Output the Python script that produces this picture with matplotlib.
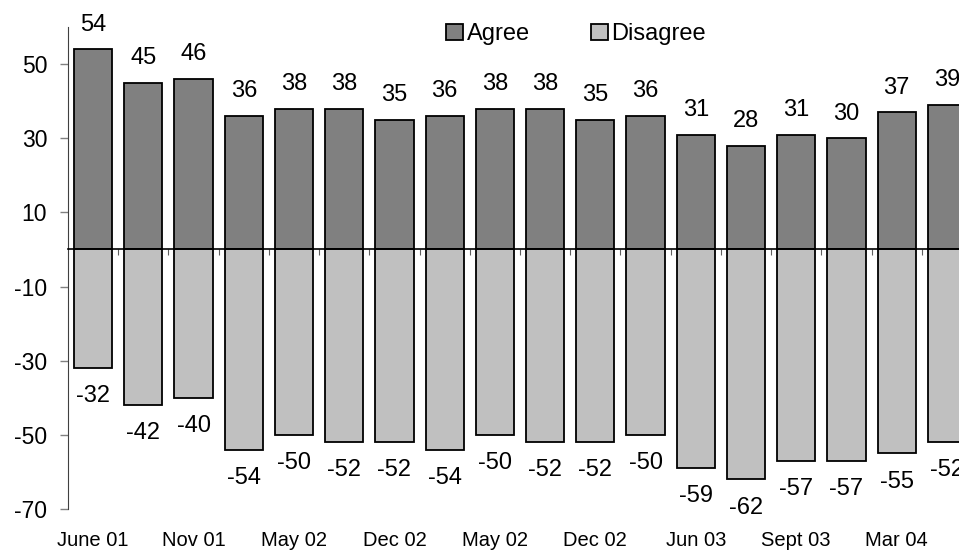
import matplotlib
matplotlib.use("Agg")
import matplotlib.pyplot as plt
import numpy as np

plt.rcParams['font.family'] = ['Liberation Sans', 'DejaVu Sans']
plt.rcParams['axes.unicode_minus'] = False

# Survey waves (bars) and the labels shown on every other wave
waves = list(range(18))
tick_labels = ["June 01", "Nov 01", "May 02", "Dec 02", "May 02",
               "Dec 02", "Jun 03", "Sept 03", "Mar 04"]
agree = [54, 45, 46, 36, 38, 38, 35, 36, 38, 38, 35, 36, 31, 28, 31, 30, 37, 39]
disagree = [-32, -42, -40, -54, -50, -52, -52, -54, -50, -52, -52, -50,
            -59, -62, -57, -57, -55, -52]

fig = plt.figure(figsize=(9.59, 5.5), dpi=100)
ax = fig.add_axes([68 / 959, 1 - 509 / 550, 904 / 959, (509 - 27) / 550])

x = np.array(waves)
width = 0.76
ax.bar(x, agree, width, color="#808080", edgecolor="black", linewidth=1.3,
       label="Agree", zorder=2)
ax.bar(x, disagree, width, color="#C0C0C0", edgecolor="black", linewidth=1.3,
       label="Disagree", zorder=2)

fs = 17
for xi, v in zip(x, agree):
    ax.annotate(str(v), (xi, v), xytext=(0, 19.5), textcoords="offset points",
                ha="center", va="center_baseline", fontsize=fs)
for xi, v in zip(x, disagree):
    ax.annotate(str(v), (xi, v), xytext=(0, -18.5), textcoords="offset points",
                ha="center", va="center_baseline", fontsize=fs)

ax.set_xlim(-0.5, 17.5)
ax.set_ylim(-70, 60)
ax.set_yticks([50, 30, 10, -10, -30, -50, -70])
ax.tick_params(axis="y", length=6, width=1, color="#808080", pad=9, labelsize=16.5)

for side in ("top", "right"):
    ax.spines[side].set_visible(False)
ax.spines["left"].set_color("#404040")
ax.spines["bottom"].set_position(("data", 0))
ax.spines["bottom"].set_linewidth(1.2)
ax.spines["bottom"].set_zorder(3)

# category boundary ticks on the zero line
ax.set_xticks(x[:-1] + 0.5)
ax.set_xticklabels([])
ax.tick_params(axis="x", direction="out", length=4, width=0.8, color="#606060")

# date labels along the bottom edge
sec = ax.secondary_xaxis("bottom")
sec.set_xticks(x[::2])
sec.set_xticklabels(tick_labels, fontsize=14.5)
sec.tick_params(length=0, pad=16)
sec.spines["bottom"].set_visible(False)

leg = ax.legend(loc="center", bbox_to_anchor=(0.562, 0.985), ncol=2,
                frameon=False, fontsize=fs, handlelength=0.7, handleheight=0.7,
                handletextpad=0.15, columnspacing=2.6, borderaxespad=0)

fig.savefig("out.png", dpi=100)
